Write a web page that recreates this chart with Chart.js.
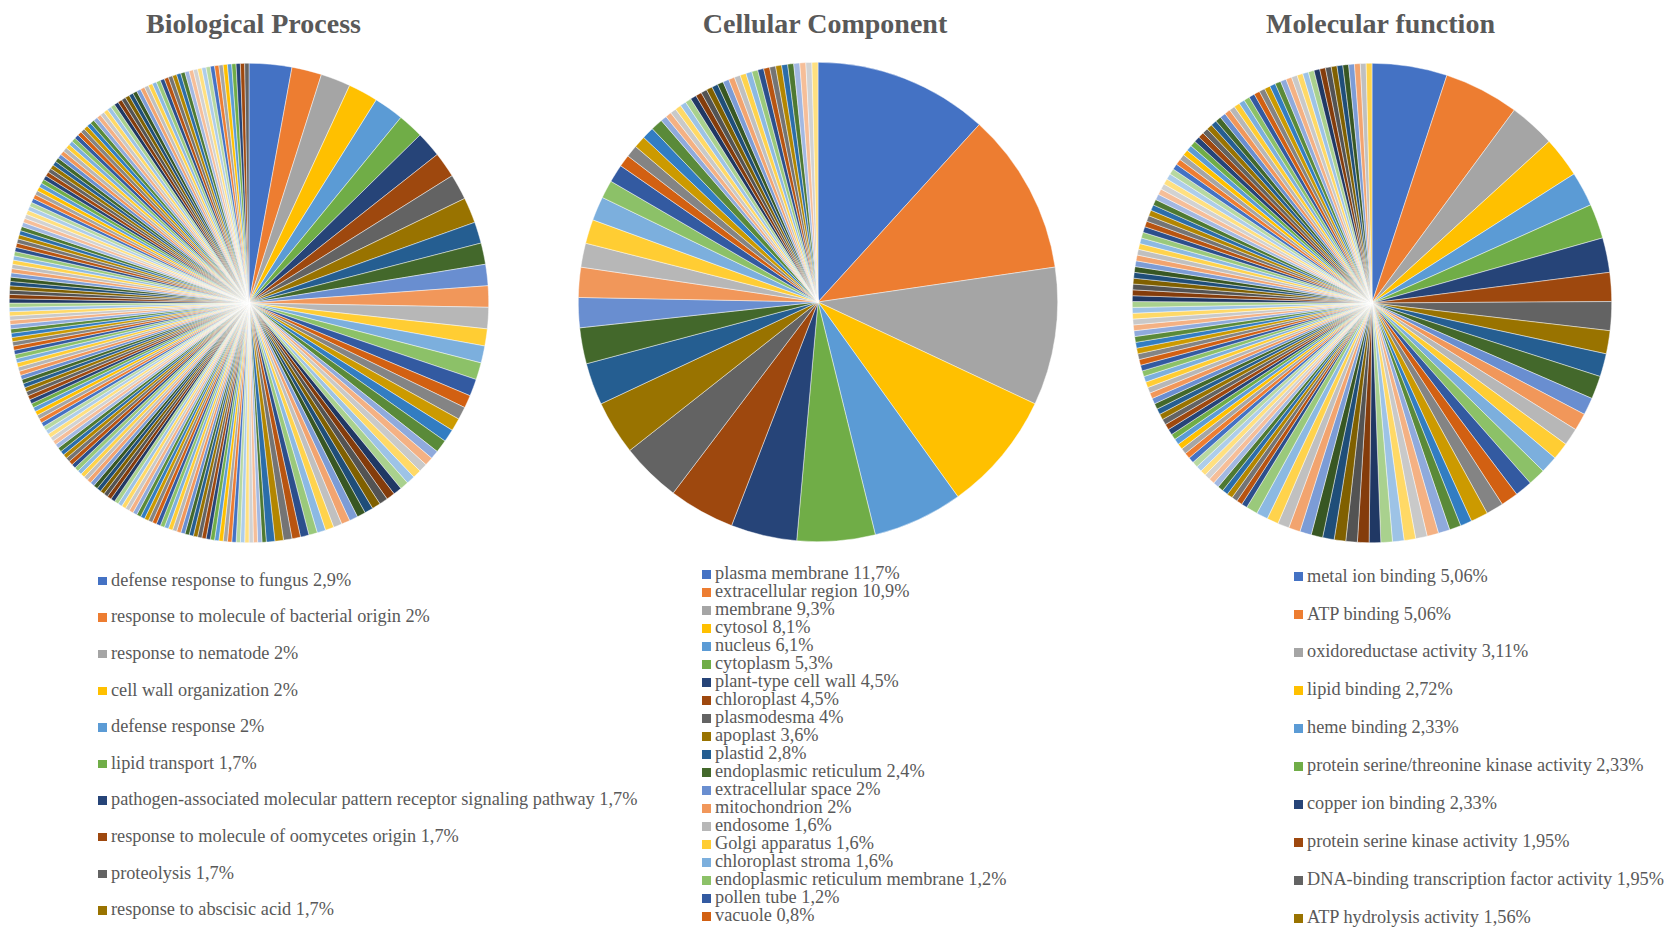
<!DOCTYPE html>
<html>
<head>
<meta charset="utf-8">
<script src="https://cdn.jsdelivr.net/npm/chart.js@4.4.1/dist/chart.umd.min.js"></script>
<style>
  html, body { margin: 0; padding: 0; background: #ffffff; }
  body { width: 1664px; height: 927px; position: relative; overflow: hidden; font-family: "Liberation Serif", "Times New Roman", serif; color: #595959; }
  .title { position: absolute; top: 10px; font-weight: bold; font-size: 28px; line-height: 1; white-space: nowrap; transform: translateX(-50%); }
  .pie { position: absolute; width: 480px; height: 480px; }
  .lg { position: absolute; display: flex; align-items: center; white-space: nowrap; line-height: 1; }
  .lg i { display: inline-block; width: 8.5px; height: 8.5px; margin-right: 4.5px; position: relative; top: 1px; }
</style>
</head>
<body>
<div class="title" style="left:253.5px">Biological Process</div>
<div class="title" style="left:825px">Cellular Component</div>
<div class="title" style="left:1380.5px">Molecular function</div>
<canvas id="bp" class="pie" width="480" height="480" style="left:9px;top:63px"></canvas>
<canvas id="cc" class="pie" width="480" height="480" style="left:578px;top:62px"></canvas>
<canvas id="mf" class="pie" width="480" height="480" style="left:1132px;top:63px"></canvas>
<div id="legends"></div>
<script>
// ---------------- DATA ----------------
// Biological Process (gene counts per GO term, sorted descending)
const bpNames = [
  "defense response to fungus", "response to molecule of bacterial origin", "response to nematode",
  "cell wall organization", "defense response", "lipid transport",
  "pathogen-associated molecular pattern receptor signaling pathway",
  "response to molecule of oomycetes origin", "proteolysis", "response to abscisic acid"
];
const bpPct = ["2,9%", "2%", "2%", "2%", "2%", "1,7%", "1,7%", "1,7%", "1,7%", "1,7%"];
const bpValues = [
  10, 7, 7, 7, 7, 6, 6, 6, 6, 6, 5, 5, 5, 5, 5, 4, 4, 4, 4, 3, 3, 3, 3, 3,
  2, 2, 2, 2, 2, 2, 2, 2, 2, 2, 2, 2, 2, 2, 2, 2, 2, 2, 2, 2, 2, 2, 2,
  1, 1, 1, 1, 1, 1, 1, 1, 1, 1, 1, 1, 1, 1, 1, 1, 1, 1, 1, 1,
  1, 1, 1, 1, 1, 1, 1, 1, 1, 1, 1, 1, 1, 1, 1, 1, 1, 1, 1, 1,
  1, 1, 1, 1, 1, 1, 1, 1, 1, 1, 1, 1, 1, 1, 1, 1, 1, 1, 1, 1,
  1, 1, 1, 1, 1, 1, 1, 1, 1, 1, 1, 1, 1, 1, 1, 1, 1, 1, 1, 1,
  1, 1, 1, 1, 1, 1, 1, 1, 1, 1, 1, 1, 1, 1, 1, 1, 1, 1, 1, 1,
  1, 1, 1, 1, 1, 1, 1, 1, 1, 1, 1, 1, 1, 1, 1, 1, 1, 1, 1, 1,
  1, 1, 1, 1, 1, 1, 1, 1, 1, 1, 1, 1, 1, 1, 1, 1, 1, 1, 1, 1,
  1, 1, 1, 1, 1, 1, 1, 1, 1, 1, 1, 1, 1, 1, 1, 1, 1, 1, 1, 1,
  1, 1, 1, 1, 1, 1, 1, 1, 1, 1, 1, 1, 1, 1, 1, 1, 1, 1
];

// Cellular Component
const ccNames = [
  "plasma membrane", "extracellular region", "membrane", "cytosol", "nucleus", "cytoplasm",
  "plant-type cell wall", "chloroplast", "plasmodesma", "apoplast", "plastid",
  "endoplasmic reticulum", "extracellular space", "mitochondrion", "endosome",
  "Golgi apparatus", "chloroplast stroma", "endoplasmic reticulum membrane", "pollen tube", "vacuole"
];
const ccPct = ["11,7%", "10,9%", "9,3%", "8,1%", "6,1%", "5,3%", "4,5%", "4,5%", "4%", "3,6%",
  "2,8%", "2,4%", "2%", "2%", "1,6%", "1,6%", "1,6%", "1,2%", "1,2%", "0,8%"];
const ccValues = [
  29, 27, 23, 20, 15, 13, 11, 11, 10, 9, 7, 6, 5, 5, 4, 4, 4, 3, 3, 2,
  2, 2, 2, 2,
  1, 1, 1, 1, 1, 1, 1, 1, 1, 1, 1, 1, 1, 1, 1, 1, 1, 1, 1, 1, 1, 1, 1, 1, 1, 1, 1, 1
];

// Molecular function
const mfNames = [
  "metal ion binding", "ATP binding", "oxidoreductase activity", "lipid binding", "heme binding",
  "protein serine/threonine kinase activity", "copper ion binding", "protein serine kinase activity",
  "DNA-binding transcription factor activity", "ATP hydrolysis activity"
];
const mfPct = ["5,06%", "5,06%", "3,11%", "2,72%", "2,33%", "2,33%", "2,33%", "1,95%", "1,95%", "1,56%"];
const mfValues = [
  13, 13, 8, 7, 6, 6, 6, 5, 5, 4, 4, 4,
  3, 3, 3, 3, 3, 3, 3, 3, 3, 3,
  2, 2, 2, 2, 2, 2, 2, 2, 2, 2, 2, 2, 2, 2, 2, 2, 2, 2, 2, 2,
  1, 1, 1, 1, 1, 1, 1, 1, 1, 1, 1, 1, 1, 1, 1, 1, 1, 1, 1, 1,
  1, 1, 1, 1, 1, 1, 1, 1, 1, 1, 1, 1, 1, 1, 1, 1, 1, 1, 1, 1,
  1, 1, 1, 1, 1, 1, 1, 1, 1, 1, 1, 1, 1, 1, 1, 1, 1, 1, 1, 1,
  1, 1, 1, 1, 1, 1, 1, 1, 1, 1, 1, 1, 1, 1, 1, 1, 1, 1, 1, 1,
  1, 1, 1, 1, 1, 1, 1, 1, 1, 1, 1, 1, 1, 1, 1, 1, 1, 1, 1, 1,
  1, 1, 1, 1, 1, 1
];

// ---------------- STYLE ----------------
const ACCENTS = ['#4472C4', '#ED7D31', '#A5A5A5', '#FFC000', '#5B9BD5', '#70AD47'];
const TIERS = [[1, 0], [0.6, 0], [0.8, 0.2], [0.8, 0], [0.6, 0.4], [0.5, 0], [0.7, 0.3], [0.7, 0], [0.5, 0.5]];

function hexToHsl(hex) {
  const r = parseInt(hex.slice(1, 3), 16) / 255, g = parseInt(hex.slice(3, 5), 16) / 255, b = parseInt(hex.slice(5, 7), 16) / 255;
  const mx = Math.max(r, g, b), mn = Math.min(r, g, b);
  let h = 0, s = 0; const l = (mx + mn) / 2;
  if (mx !== mn) {
    const d = mx - mn;
    s = l > 0.5 ? d / (2 - mx - mn) : d / (mx + mn);
    if (mx === r) h = (g - b) / d + (g < b ? 6 : 0);
    else if (mx === g) h = (b - r) / d + 2;
    else h = (r - g) / d + 4;
    h /= 6;
  }
  return [h, s, l];
}
function hslToRgb(h, s, l) {
  function f(p, q, t) { if (t < 0) t += 1; if (t > 1) t -= 1; if (t < 1/6) return p + (q - p) * 6 * t; if (t < 1/2) return q; if (t < 2/3) return p + (q - p) * (2/3 - t) * 6; return p; }
  let r, g, b;
  if (s === 0) { r = g = b = l; } else {
    const q = l < 0.5 ? l * (1 + s) : l + s - l * s, p = 2 * l - q;
    r = f(p, q, h + 1/3); g = f(p, q, h); b = f(p, q, h - 1/3);
  }
  return 'rgb(' + Math.round(r * 255) + ',' + Math.round(g * 255) + ',' + Math.round(b * 255) + ')';
}
function sliceColor(i) {
  const base = hexToHsl(ACCENTS[i % 6]);
  const t = TIERS[Math.floor(i / 6) % TIERS.length];
  const l = Math.min(1, base[2] * t[0] + t[1]);
  return hslToRgb(base[0], base[1], l);
}

function makePie(id, values, names) {
  const labels = values.map((v, i) => i < names.length ? names[i] : '');
  new Chart(document.getElementById(id), {
    type: 'pie',
    data: {
      labels: labels,
      datasets: [{
        data: values,
        backgroundColor: values.map((v, i) => sliceColor(i)),
        borderColor: 'rgba(255,255,255,0.75)',
        borderWidth: 0.6
      }]
    },
    options: {
      responsive: false,
      animation: false,
      devicePixelRatio: 1,
      layout: { padding: 0 },
      plugins: { legend: { display: false }, tooltip: { enabled: false }, title: { display: false } }
    }
  });
}
makePie('bp', bpValues, bpNames);
makePie('cc', ccValues, ccNames);
makePie('mf', mfValues, mfNames);

function makeLegend(names, pct, x, y0, dy, fontSize) {
  const host = document.getElementById('legends');
  names.forEach((n, i) => {
    const row = document.createElement('div');
    row.className = 'lg';
    row.style.left = x + 'px';
    row.style.top = (y0 + i * dy - fontSize / 2) + 'px';
    row.style.fontSize = fontSize + 'px';
    row.style.height = fontSize + 'px';
    const sw = document.createElement('i');
    sw.style.background = sliceColor(i);
    row.appendChild(sw);
    const tx = document.createElement('span');
    tx.textContent = n + ' ' + pct[i];
    row.appendChild(tx);
    host.appendChild(row);
  });
}
makeLegend(bpNames, bpPct, 98, 580, 36.6, 18.3);
makeLegend(ccNames, ccPct, 702, 573.3, 18.0, 18.3);
makeLegend(mfNames, mfPct, 1294, 575.7, 37.96, 18.3);
</script>
</body>
</html>
